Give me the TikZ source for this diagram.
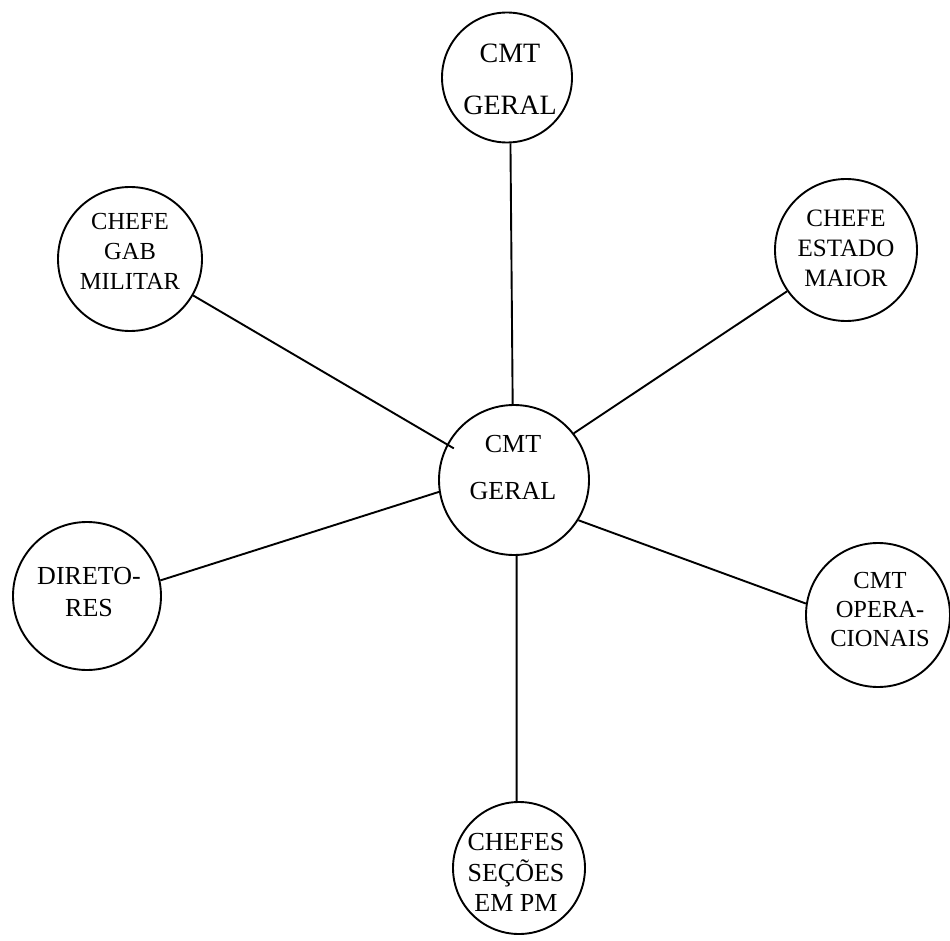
\documentclass[tikz,border=0pt]{standalone}
\usepackage{fontspec}
\setmainfont{Liberation Serif}
\begin{document}
\begin{tikzpicture}[x=1pt,y=-1pt,
  circ/.style={draw, circle, line width=1.9pt, inner sep=0pt},
  lbl/.style={align=center, inner sep=0pt},
  conn/.style={line width=1.9pt}]
\useasboundingbox (0,0) rectangle (950,941);
% circles
\node[circ, minimum size=130pt] (top) at (507,77.5) {};
\node[circ, minimum size=150pt] (ctr) at (514,480) {};
\node[circ, minimum size=144pt] (gab) at (130,259) {};
\node[circ, minimum size=142pt] (est) at (846,250) {};
\node[circ, minimum size=148pt] (dir) at (87,596) {};
\node[circ, minimum size=144pt] (ope) at (878,615) {};
\node[circ, minimum size=132pt] (bot) at (519,868) {};
% texts
\node[lbl, font=\fontsize{28}{52}\selectfont] (topt) at (510,79) {CMT\\GERAL};
\node[lbl, font=\fontsize{26}{47}\selectfont] (ctrt) at (513,467.5) {CMT\\GERAL};
\node[lbl, font=\fontsize{24.5}{30}\selectfont] (gabt) at (130,251.5) {CHEFE\\GAB\\MILITAR};
\node[lbl, font=\fontsize{25}{30}\selectfont] (estt) at (846,248.5) {CHEFE\\ESTADO\\MAIOR};
\node[lbl, font=\fontsize{26}{32}\selectfont] (dirt) at (89,592) {DIRETO-\\RES};
\node[lbl, font=\fontsize{24.5}{29}\selectfont] (opet) at (880,609.5) {CMT\\OPERA-\\CIONAIS};
\node[lbl, font=\fontsize{26}{30.5}\selectfont] (bott) at (516,872.5) {CHEFES\\SEÇÕES\\EM PM};
% connectors
\draw[conn] (top.-87) -- (ctr.91.5);
\draw[conn, shorten >=-8pt] (gab.-30) -- (ctr.152);
\draw[conn] (est.-145) -- (ctr.38);
\draw[conn] (dir.12) -- (ctr.189);
\draw[conn] (ope.171) -- (ctr.-32);
\draw[conn] (bot.92) -- (ctr.-88);
\end{tikzpicture}
\end{document}
